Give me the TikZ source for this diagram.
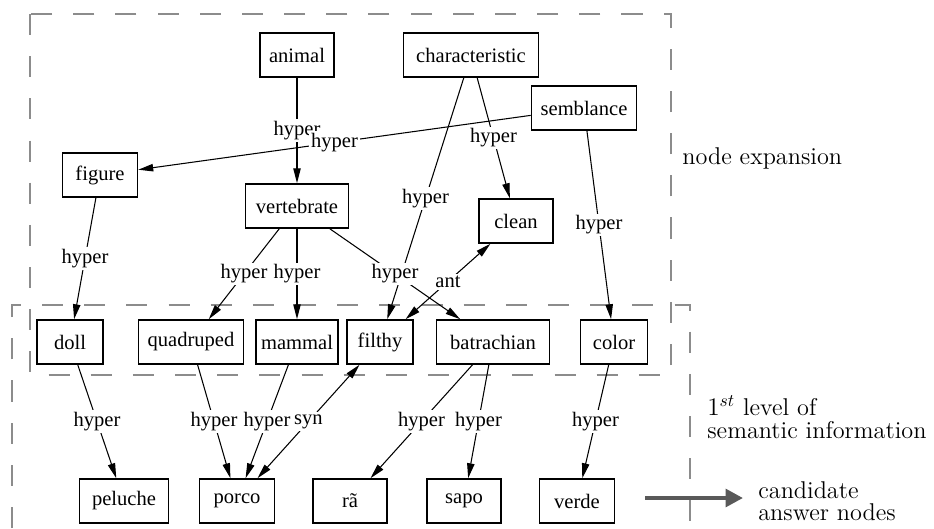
\documentclass[tikz,border=0pt]{standalone}
\usepackage{fontspec}
\usepackage{tikz}
\usetikzlibrary{arrows.meta}
\newfontfamily\figfont{Liberation Serif}
\colorlet{framegray}{black!45}
\colorlet{bargray}{black!65}

\begin{document}
\begin{tikzpicture}[x=0.02cm, y=-0.02cm, >={Triangle[length=8.5pt,width=4.2pt]},
		main/.style = {draw, line width=0.9pt, inner sep=0pt, minimum height=0.88cm, minimum width=#1*0.02cm, font=\figfont\fontsize{11.7}{14}\selectfont},
		rel/.style = {line width=0.6pt},
		lbl/.style = {fill=white, inner sep=1.2pt, font=\figfont\fontsize{11.7}{14}\selectfont},
		frame/.style = {draw=framegray, line width=0.7pt, dash pattern=on 12pt off 12pt},
		note/.style = {inner sep=0pt, align=left, font=\fontsize{13.8}{12.8}\selectfont}]
		\useasboundingbox (0,0) rectangle (934,528);
		
		% the two dashed areas
		\draw[frame] (30,14) rectangle (671,375);
		\draw[frame] (12,528) -- (12,305) -- (690,305) -- (690,528);
		
		% node expansion
		\node[main=74] (animal) at (297,55) {animal};
		\node[main=135] (characteristic) at (471,55) {characteristic};
		\node[main=105] (semblance) at (584,108) {semblance};
		\node[main=75] (figure) at (100,175) {figure};
		\node[main=103] (vertebrate) at (297,206) {vertebrate};
		\node[main=74] (clean) at (516,221) {clean};
		
		% 1st level
		\node[main=66] (doll) at (70,342) {doll};
		\node[main=105] (quadruped) at (191,342) {quadruped};
		\node[main=82] (mammal) at (297,342) {mammal};
		\node[main=66] (filthy) at (380,342) {filthy};
		\node[main=113] (batrachian) at (493,342) {batrachian};
		\node[main=67] (color) at (614,342) {color};
		
		% candidate answers
		\node[main=89] (peluche) at (124,501) {peluche};
		\node[main=75] (porco) at (237,501) {porco};
		\node[main=74] (ra) at (350,501) {rã};
		\node[main=74] (sapo) at (464,501) {sapo};
		\node[main=75] (verde) at (577,501) {verde};
		
		\draw[->, rel] (animal) edge node[lbl] {hyper} (vertebrate);
		\draw[->, rel] (semblance) edge node[lbl] {hyper} (figure);
		\draw[->, rel] (characteristic) edge node[lbl] {hyper} (clean);
		\draw[->, rel] (characteristic) edge node[lbl] {hyper} (filthy);
		\draw[->, rel] (semblance) edge node[lbl] {hyper} (color);
		\draw[->, rel] (figure) edge node[lbl] {hyper} (doll);
		\draw[->, rel] (vertebrate) edge node[lbl] {hyper} (quadruped);
		\draw[->, rel] (vertebrate) edge node[lbl] {hyper} (mammal);
		\draw[->, rel] (vertebrate) edge node[lbl] {hyper} (batrachian);
		\draw[<->, rel] (filthy) edge node[lbl] {ant} (clean);
		
		\draw[->, rel] (doll) edge node[lbl] {hyper} (peluche);
		\draw[->, rel] (quadruped) edge node[lbl] {hyper} (porco);
		\draw[->, rel] (mammal) edge node[lbl] {hyper} (porco);
		\draw[<->, rel] (porco) edge node[lbl] {syn} (filthy);
		\draw[->, rel] (batrachian) edge node[lbl] {hyper} (ra);
		\draw[->, rel] (batrachian) edge node[lbl] {hyper} (sapo);
		\draw[->, rel] (color) edge node[lbl] {hyper} (verde);
		
		% legend on the right
		\node[note, anchor=base west] (expansion) at (682,164) {node expansion};
		\node[note, anchor=west] (level) at (707,417) {$1^{st}$ level of\\semantic information};
		\node[note, anchor=west] (cand) at (758,501) {candidate\\answer nodes};
		\coordinate (barstart) at (645,498);
		\draw[line width=2.8pt, bargray, -{Triangle[length=10pt,width=10pt]}, shorten >=8.5pt] (barstart) -- (barstart -| cand.west);
	\end{tikzpicture}
\end{document}
